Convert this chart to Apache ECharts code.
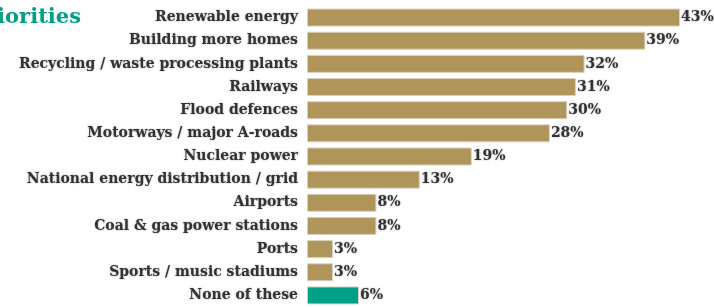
<!DOCTYPE html>
<html>
<head>
<meta charset="utf-8">
<script src="https://cdn.jsdelivr.net/npm/echarts@6/dist/echarts.min.js"></script>
<style>
  html, body { margin: 0; padding: 0; background: #fff; }
  #chart { width: 714px; height: 307px; }
</style>
</head>
<body>
<div id="chart"></div>
<script>
// infrastructure priorities
const categories = [
  'Renewable energy',
  'Building more homes',
  'Recycling / waste processing plants',
  'Railways',
  'Flood defences',
  'Motorways / major A-roads',
  'Nuclear power',
  'National energy distribution / grid',
  'Airports',
  'Coal & gas power stations',
  'Ports',
  'Sports / music stadiums',
  'None of these'
];
const values = [43, 39, 32, 31, 30, 28, 19, 13, 8, 8, 3, 3, 6];
const titleText = 'Priorities';

const gold = '#b0955a';
const teal = '#00a087';
const serif = '"DejaVu Serif", "Liberation Serif", serif';

let chart = echarts.init(document.getElementById('chart'));
chart.setOption({
  animation: false,
  graphic: [{
    type: 'text',
    x: 81,
    y: 7,
    style: {
      text: titleText,
      textAlign: 'right',
      fill: teal,
      font: 'bold 21px ' + serif
    }
  }],
  grid: { left: 307, top: 6, height: 306, right: 34 },
  xAxis: {
    type: 'value',
    min: 0,
    max: 43,
    show: false
  },
  yAxis: {
    type: 'category',
    data: categories,
    inverse: true,
    axisLine: { show: false },
    axisTick: { show: false },
    axisLabel: {
      margin: 9,
      color: '#333',
      fontFamily: serif,
      fontWeight: 'bold',
      fontSize: 14,
      textShadowColor: 'rgba(0,0,0,0.35)',
      textShadowBlur: 2
    }
  },
  series: [{
    type: 'bar',
    barWidth: 18,
    data: values.map(function(v, i) {
      return {
        value: v,
        itemStyle: { color: i === values.length - 1 ? teal : gold }
      };
    }),
    itemStyle: { borderColor: '#d9d2c2', borderWidth: 1 },
    label: {
      show: true,
      position: 'right',
      distance: 1,
      formatter: '{c}%',
      color: '#333',
      fontFamily: serif,
      fontWeight: 'bold',
      fontSize: 14,
      textShadowColor: 'rgba(0,0,0,0.35)',
      textShadowBlur: 2
    }
  }]
});
</script>
</body>
</html>
